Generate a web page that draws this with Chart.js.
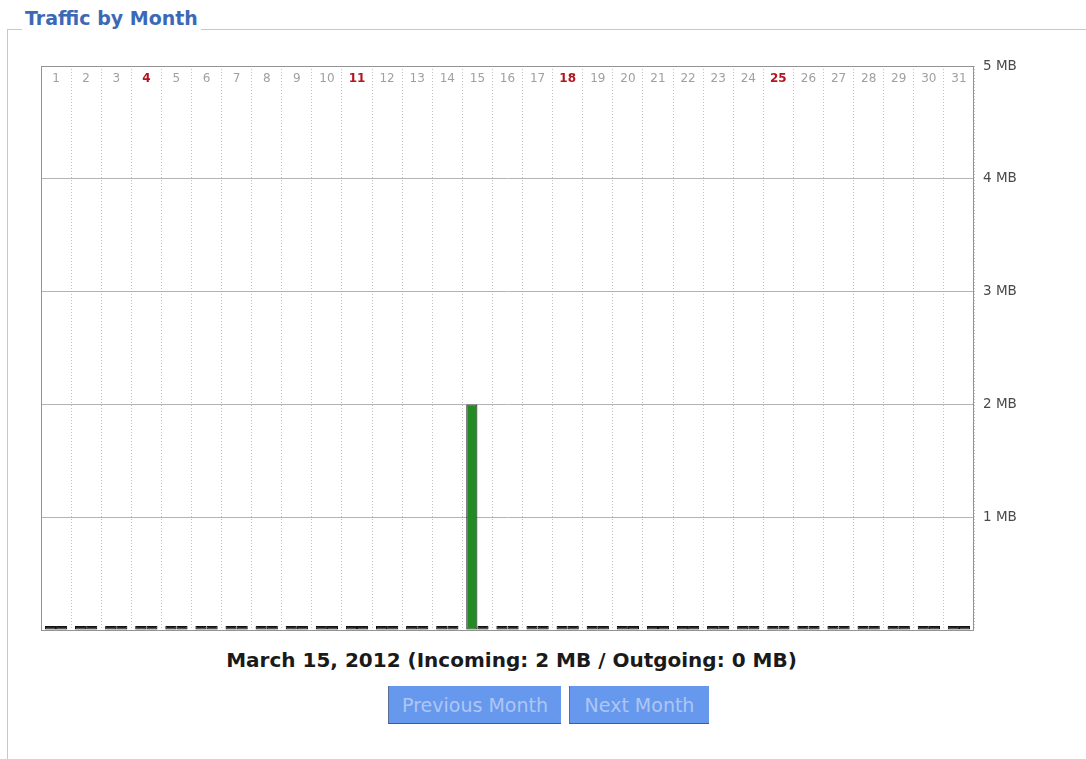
<!DOCTYPE html>
<html>
<head>
<meta charset="utf-8">
<script src="https://cdn.jsdelivr.net/npm/chart.js@4.4.0/dist/chart.umd.min.js"></script>
<style>
html,body{margin:0;padding:0;background:#fff;width:1086px;height:759px;overflow:hidden;font-family:"DejaVu Sans",Verdana,sans-serif;}
#fs{position:absolute;left:7px;top:29px;width:1100px;height:800px;border-left:1px solid #c8c8c8;border-top:1px solid #c8c8c8;}
#legend{position:absolute;left:22px;top:6px;padding:0 3px;background:#fff;color:#3c69b6;font-weight:bold;font-size:19px;line-height:24px;}
#wrap{position:absolute;left:41px;top:56px;width:999px;height:578px;}
#caption{position:absolute;left:0;width:1023px;top:647px;text-align:center;font-weight:bold;font-size:20px;line-height:26px;color:#1a1a1a;}
.btn{position:absolute;top:686px;height:38px;background:#6699ee;color:#aec6f2;font-size:19px;line-height:38px;text-align:center;box-sizing:border-box;border-left:1px solid #5a6f95;border-bottom:1px solid #4a5a78;}
</style>
</head>
<body>
<div id="fs"></div>
<div id="legend">Traffic by Month</div>
<div id="wrap"><canvas id="c" width="999" height="578"></canvas></div>
<div id="caption">March 15, 2012 (Incoming: 2 MB / Outgoing: 0 MB)</div>
<div class="btn" style="left:388px;width:173px;">Previous Month</div>
<div class="btn" style="left:569px;width:140px;">Next Month</div>
<script>
const days = ['1','2','3','4','5','6','7','8','9','10','11','12','13','14','15','16','17','18','19','20','21','22','23','24','25','26','27','28','29','30','31'];
const incomingMB = [0,0,0,0,0,0,0,0,0,0,0,0,0,0,2,0,0,0,0,0,0,0,0,0,0,0,0,0,0,0,0];
const outgoingMB = [0,0,0,0,0,0,0,0,0,0,0,0,0,0,0,0,0,0,0,0,0,0,0,0,0,0,0,0,0,0,0];
const sundays = ['4','11','18','25'];
const yTickValues = [1,2,3,4,5];
const yUnit = ' MB';

const frame = {
  id:'frame',
  beforeDatasetsDraw(chart){
    const {ctx, chartArea:a} = chart;
    ctx.save();
    ctx.strokeStyle = '#939393';
    ctx.lineWidth = 1;
    ctx.strokeRect(Math.round(a.left)+0.5, Math.round(a.top)+0.5, Math.round(a.right-a.left)-1, Math.round(a.bottom-a.top));
    ctx.restore();
  }
};

const barStyle = {
  borderColor:'#111',
  borderWidth:1,
  borderSkipped:false,
  minBarLength:4,
  categoryPercentage:0.74,
  barPercentage:1
};

new Chart(document.getElementById('c'), {
  type:'bar',
  data:{
    labels:days,
    datasets:[
      Object.assign({label:'Incoming', data:incomingMB,
        backgroundColor: c => (c.raw > 0 ? '#248a24' : '#262626')}, barStyle),
      Object.assign({label:'Outgoing', data:outgoingMB,
        backgroundColor: c => (c.raw > 0 ? '#3355cc' : '#262626')}, barStyle)
    ]
  },
  plugins:[frame],
  options:{
    responsive:false,
    animation:false,
    events:[],
    layout:{padding:{top:10,bottom:4,left:0,right:0}},
    plugins:{legend:{display:false}, tooltip:{enabled:false}, title:{display:false}},
    scales:{
      x:{
        position:'top',
        offset:true,
        grid:{display:true, offset:true, color:'#c2c2c2', lineWidth:1, drawTicks:false},
        border:{display:false, dash:[1,2]},
        ticks:{
          mirror:true, padding:6, autoSkip:false, maxRotation:0, minRotation:0,
          color: c => (sundays.includes(days[c.index]) ? '#b3141e' : '#a0a0a0'),
          font: c => (sundays.includes(days[c.index]) ? {family:'DejaVu Sans', size:12, weight:'bold'} : {family:'DejaVu Sans', size:12})
        },
        afterFit: s => { s.height = 0; s.paddingLeft = 0; s.paddingRight = 0; }
      },
      y:{
        position:'right',
        min:0, max:5,
        afterBuildTicks: s => { s.ticks = [0].concat(yTickValues).map(v => ({value:v})); },
        ticks:{
          padding:9, color:'#4a4a4a', font:{family:'DejaVu Sans', size:13.5},
          callback: v => (v === 0 ? '' : v + yUnit)
        },
        grid:{color:'#b4b4b4', lineWidth:1, drawTicks:false},
        border:{display:false},
        afterFit: s => { s.width = 66; s.paddingTop = 0; s.paddingBottom = 0; }
      }
    }
  }
});
</script>
</body>
</html>
